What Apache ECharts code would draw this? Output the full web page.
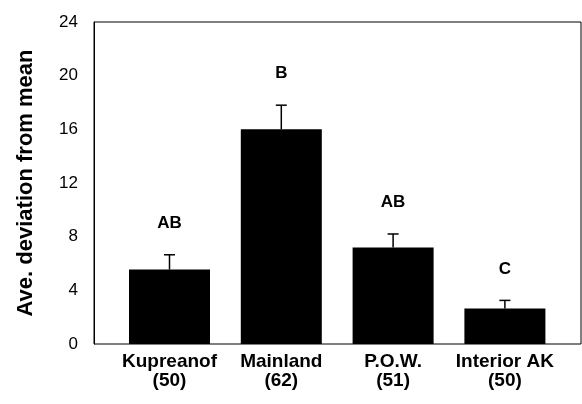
<!DOCTYPE html>
<html>
<head>
<meta charset="utf-8">
<script src="https://cdn.jsdelivr.net/npm/echarts@6/dist/echarts.min.js"></script>
<style>
  html, body { margin: 0; padding: 0; background: #fff; }
  #chart { width: 582px; height: 404px; }
</style>
</head>
<body>
<div id="chart"></div>
<script>
// sites, with sample size underneath
const sites = ['Kupreanof', 'Mainland', 'P.O.W.', 'Interior AK'];
const sampleSizes = [50, 62, 51, 50];
// mean deviation and the upper error bar
const means = [5.55, 16.0, 7.2, 2.65];
const errors = [1.1, 1.8, 1.0, 0.6];
// significance letters over each bar
const groups = ['AB', 'B', 'AB', 'C'];
const yTicks = [0, 4, 8, 12, 16, 20, 24];

const font = 'Liberation Sans, Arial, sans-serif';
const chart = echarts.init(document.getElementById('chart'));

const option = {
  animation: false,
  backgroundColor: '#fff',
  grid: [
    // frame + y axis
    { left: 94, right: 1, top: 22, bottom: 60, show: true, borderColor: '#000', borderWidth: 1 },
    // bars
    { left: 113.6, right: 21.2, top: 22, bottom: 60 }
  ],
  xAxis: [
    { gridIndex: 0, type: 'value', show: false, min: 0, max: 1 },
    {
      gridIndex: 1,
      type: 'category',
      data: sites.map((s, i) => s + '\n(' + sampleSizes[i] + ')'),
      axisLine: { show: false },
      axisTick: { show: false },
      axisLabel: {
        interval: 0,
        margin: 8,
        color: '#000',
        fontFamily: font,
        fontWeight: 'bold',
        fontSize: 19,
        lineHeight: 19
      }
    }
  ],
  yAxis: [
    {
      gridIndex: 0,
      type: 'value',
      min: yTicks[0],
      max: yTicks[yTicks.length - 1],
      interval: 4,
      name: 'Ave. deviation from mean',
      nameLocation: 'middle',
      nameGap: 57,
      nameTextStyle: { color: '#000', fontFamily: font, fontWeight: 'bold', fontSize: 22 },
      axisLine: { show: true, lineStyle: { color: '#000', width: 1 } },
      axisTick: { show: false },
      splitLine: { show: false },
      axisLabel: { color: '#000', fontFamily: font, fontSize: 17, margin: 16, padding: [0, 0, 7, 0] }
    },
    { gridIndex: 1, type: 'value', show: false, min: 0, max: 24 }
  ],
  series: [
    {
      type: 'bar',
      xAxisIndex: 1,
      yAxisIndex: 1,
      data: means,
      barWidth: 81,
      itemStyle: { color: '#000' }
    },
    {
      type: 'custom',
      xAxisIndex: 1,
      yAxisIndex: 1,
      z: 5,
      data: means.map((m, i) => [i, m, m + errors[i]]),
      renderItem: function (params, api) {
        const base = api.coord([api.value(0), api.value(1)]);
        const top = api.coord([api.value(0), api.value(2)]);
        const x = base[0];
        const half = 5.5;
        return {
          type: 'group',
          children: [
            { type: 'line', shape: { x1: x, y1: base[1], x2: x, y2: top[1] }, style: { stroke: '#000', lineWidth: 1.5 } },
            { type: 'line', shape: { x1: x - half, y1: top[1], x2: x + half, y2: top[1] }, style: { stroke: '#000', lineWidth: 1.5 } },
            {
              type: 'text',
              x: x,
              y: top[1] - 23,
              style: {
                text: groups[params.dataIndex],
                fill: '#000',
                font: 'bold 17px ' + font,
                align: 'center',
                verticalAlign: 'bottom'
              }
            }
          ]
        };
      }
    }
  ]
};

chart.setOption(option);
</script>
</body>
</html>
